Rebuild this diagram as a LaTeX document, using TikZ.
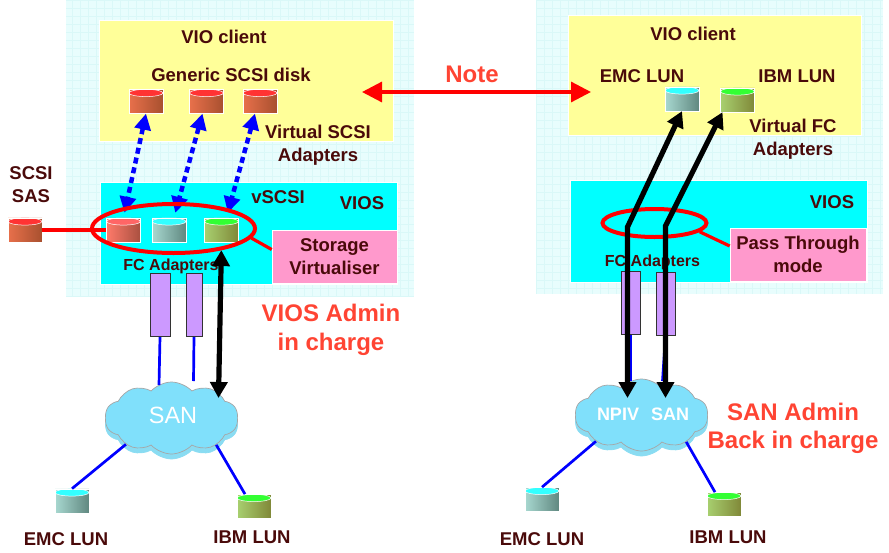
\documentclass[tikz,border=0pt]{standalone}
\usepackage{fontspec}
\setmainfont{Liberation Sans}
\usetikzlibrary{arrows.meta,shapes.geometric,shapes.symbols}

\definecolor{labeltext}{HTML}{4A0A0A}
\definecolor{admintext}{HTML}{FF4433}
\definecolor{panelcol}{HTML}{E8FDFD}
\definecolor{gridcol}{HTML}{DAF8F8}
\definecolor{clientcol}{HTML}{FFFF99}
\definecolor{vioscol}{HTML}{00FFFF}
\definecolor{pinkcol}{HTML}{FF99CC}
\definecolor{purplecol}{HTML}{CC99FF}
\definecolor{cloudcol}{HTML}{80E0FB}
\definecolor{cloudside}{HTML}{8ADCF2}
\definecolor{linkblue}{HTML}{0000FF}
\definecolor{linkred}{HTML}{FF0000}
\definecolor{redA}{HTML}{E8704B}
\definecolor{redB}{HTML}{E85C36}
\definecolor{redC}{HTML}{A8502F}
\definecolor{redT}{HTML}{FF3333}
\definecolor{paleA}{HTML}{FF7A6A}
\definecolor{paleB}{HTML}{E86A50}
\definecolor{paleC}{HTML}{A85040}
\definecolor{paleT}{HTML}{FF6666}
\definecolor{cyanA}{HTML}{A8D8D0}
\definecolor{cyanB}{HTML}{60C0C0}
\definecolor{cyanC}{HTML}{608880}
\definecolor{cyanT}{HTML}{33FFFF}
\definecolor{greenA}{HTML}{A8D070}
\definecolor{greenB}{HTML}{90C050}
\definecolor{greenC}{HTML}{808838}
\definecolor{greenT}{HTML}{33FF33}

\tikzset{
    txt/.style={font=\fontsize{18.5}{23}\selectfont\bfseries, text=labeltext, align=center, inner sep=0pt},
    admin/.style={font=\fontsize{24}{28.5}\selectfont\bfseries, text=admintext, align=center, inner sep=0pt},
    smalltxt/.style={txt, font=\fontsize{16}{18}\selectfont\bfseries},
    box/.style={draw=white, line width=0.6pt, inner sep=0pt},
    pinkbox/.style={box, fill=pinkcol, minimum width=125pt, minimum height=53pt},
    adapter/.style={draw=black!80, line width=1pt, fill=purplecol, minimum width=19pt, minimum height=63pt, inner sep=0pt},
    disk/.style={shape=cylinder, shape border rotate=90, aspect=2.4, draw=white, line width=0.5pt,
        minimum width=34pt, minimum height=24pt, inner sep=0pt,
        left color=#1A, middle color=#1B, right color=#1C,
        path picture={\fill[#1T, draw=white, line width=0.5pt] ([yshift=-3.6pt]path picture bounding box.north) ellipse (17pt and 3.6pt);}},
    cloudtop/.style={shape=cloud, cloud puffs=10, cloud puff arc=95, aspect=1.8, draw=black!35, line width=0.7pt,
        fill=cloudcol, minimum width=133pt, minimum height=72pt, inner sep=0pt},
    cloudbase/.style={cloudtop, draw=cloudside, fill=cloudside},
    bluelink/.style={draw=linkblue, line width=2.7pt},
    redlink/.style={draw=linkred, line width=3.2pt},
    ring/.style={shape=ellipse, draw=linkred, line width=4pt, inner sep=0pt},
    virtlink/.style={draw=linkblue, line width=4.5pt, dash pattern=on 6pt off 4pt, {Triangle[length=16pt,width=16pt]}-{Triangle[length=16pt,width=16pt]}},
    fclink/.style={draw=black, line width=5.2pt, {Triangle[length=16pt,width=17pt]}-{Triangle[length=16pt,width=17pt]}},
}

\begin{document}
\begin{tikzpicture}[x=1pt,y=-1pt]
    \useasboundingbox (0,0) rectangle (889,552);

    % left side
    \fill[panelcol] (66,0) rectangle (414,297);
    \draw[gridcol, line width=0.3pt, step=8pt] (66,0) grid (414,297);
    \node[box, fill=clientcol, minimum width=294pt, minimum height=121pt] (clientL) at (246,80.5) {};
    \node[box, fill=vioscol, minimum width=297pt, minimum height=102pt]   (viosL) at (248.5,233) {};
    \node[pinkbox, txt] (storageBox) at (334.5,256.5) {Storage\\Virtualiser};

    \node[txt] (vioclientL) at (224,37)   {VIO client};
    \node[txt] (generic)    at (231,75)   {Generic SCSI disk};
    \node[txt] (virtscsi)   at (318,145.5) {Virtual SCSI\\Adapters};
    \node[txt] (scsisas)    at (31,185)   {SCSI\\SAS};
    \node[txt] (vscsi)      at (278,197)  {vSCSI};
    \node[txt] (viosnameL)  at (362,203)  {VIOS};
    \node[smalltxt] (fcL)   at (171,266)  {FC Adapters};
    \node[admin] (adminL)   at (331,330)  {VIOS Admin\\in charge};

    \node[disk=red] (diskA) at (146,101.5) {};
    \node[disk=red] (diskB) at (206.5,101.5) {};
    \node[disk=red] (diskC) at (260,101.5) {};
    \node[disk=pale]  (vdiskA) at (123.5,230) {};
    \node[disk=cyan]  (vdiskB) at (169,230) {};
    \node[disk=green] (vdiskC) at (221.5,230) {};
    \node[disk=red]   (scsidisk) at (25,230) {};

    \node[adapter, minimum width=20pt] (adapterA) at (160,305) {};
    \node[adapter, minimum width=16pt] (adapterB) at (194,305) {};

    \node[cloudbase] (sanbaseL) at (171.5,423) {};
    \node[cloudtop]  (sanL) at (171.5,418) {};
    \node[inner sep=0pt, text=white, font=\fontsize{23.5}{28}\selectfont] (santxtL) at (173,415) {SAN};

    \node[disk=cyan]  (emcL) at (72,501) {};
    \node[disk=green] (ibmL) at (254,506.5) {};
    \node[txt] (emctxtL) at (66,539)  {EMC LUN};
    \node[txt] (ibmtxtL) at (252,537) {IBM LUN};

    \coordinate (lineA) at (159,385);
    \coordinate (lineB) at (193.5,381);
    \coordinate (tipL)  at (218.5,398);
    \draw[bluelink] (adapterA.south) -- (lineA);
    \draw[bluelink] (adapterB.south) -- (lineB);
    \draw[bluelink] (sanL.-150) -- (emcL.north);
    \draw[bluelink] (sanL.-31) -- ([xshift=-9pt]ibmL.north);

    \draw[virtlink, shorten >=5pt] (diskA.south) -- (vdiskA.north);
    \draw[virtlink, shorten >=5pt] ([xshift=-4pt]diskB.south) -- ([xshift=5pt]vdiskB.north);
    \draw[virtlink, shorten >=5pt] ([xshift=-5pt]diskC.south) -- ([xshift=5pt]vdiskC.north);
    \draw[fclink, shorten >=8pt] (tipL) -- (vdiskC.south);

    \node[ring, minimum width=163pt, minimum height=49pt] (ringL) at (173.5,228.5) {};
    \draw[redlink] (scsidisk.east) -- (vdiskA.west);
    \draw[redlink] (ringL.-7) -- ([yshift=7pt]storageBox.west);

    % right side
    \fill[panelcol] (536,0) rectangle (883,294);
    \draw[gridcol, line width=0.3pt, step=8pt] (536,0) grid (883,294);
    \node[box, fill=clientcol, minimum width=293pt, minimum height=120pt] (clientR) at (714.5,75) {};
    \node[box, fill=vioscol, minimum width=297pt, minimum height=102pt]   (viosR) at (718.5,231) {};
    \node[pinkbox, txt, minimum width=136pt] (passBox) at (798,254.5) {Pass Through\\mode};

    \node[txt] (vioclientR) at (693,34)   {VIO client};
    \node[txt] (emcupper)   at (642,76)   {EMC LUN};
    \node[txt] (ibmupper)   at (797,76)   {IBM LUN};
    \node[txt] (virtfc)     at (793,139.5) {Virtual FC\\Adapters};
    \node[txt] (viosnameR)  at (832,202)  {VIOS};
    \node[smalltxt] (fcR)   at (652.5,262) {FC Adapters};
    \node[admin] (adminR)   at (793,428.5) {SAN Admin\\Back in charge};

    \node[disk=cyan]  (lunA) at (682,99) {};
    \node[disk=green] (lunB) at (737.5,100) {};

    \node[adapter] (adapterC) at (630.5,303) {};
    \node[adapter] (adapterD) at (665.5,303.5) {};

    \node[cloudbase] (sanbaseR) at (641.5,420) {};
    \node[cloudtop]  (sanR) at (641.5,415) {};
    \node[inner sep=0pt, text=white, font=\fontsize{18}{23}\selectfont\bfseries] (npivtxt) at (618,414) {NPIV};
    \node[inner sep=0pt, text=white, font=\fontsize{18}{23}\selectfont\bfseries] (santxtR) at (670,414) {SAN};

    \node[disk=cyan]  (emcR) at (542,499.5) {};
    \node[disk=green] (ibmR) at (724,504.5) {};
    \node[txt] (emctxtR) at (542,539) {EMC LUN};
    \node[txt] (ibmtxtR) at (728,537) {IBM LUN};

    \coordinate (lineC) at (630.5,381);
    \coordinate (lineD) at (662.5,381);
    \draw[bluelink] (adapterC.south) -- (lineC);
    \draw[bluelink] (adapterD.south) -- (lineD);
    \draw[bluelink] (sanR.-150) -- (emcR.north);
    \draw[bluelink] (sanR.-31) -- ([xshift=-9pt]ibmR.north);

    \node[ring, minimum width=104pt, minimum height=28pt] (ringR) at (654.5,223) {};
    \draw[redlink] (ringR.-11) -- ([yshift=8.5pt]passBox.west);

    \coordinate (tipC)  at (627.5,398);
    \coordinate (bendC) at (627.5,227);
    \coordinate (tipD)  at (665.5,398);
    \coordinate (bendD) at (665.5,226);
    \draw[fclink] (tipC) -- (bendC) -- (lunA.south);
    \draw[fclink] (tipD) -- (bendD) -- ([xshift=-15pt]lunB.south);

    % between the two sides
    \coordinate (noteL) at (362,92);
    \coordinate (noteR) at (591,92);
    \draw[redlink, {Triangle[length=20pt,width=20pt]}-{Triangle[length=20pt,width=20pt]}] (noteL) -- (noteR);
    \node[txt, text=admintext, font=\fontsize{24}{28}\selectfont\bfseries] (note) at (472,74) {Note};

\end{tikzpicture}
\end{document}
